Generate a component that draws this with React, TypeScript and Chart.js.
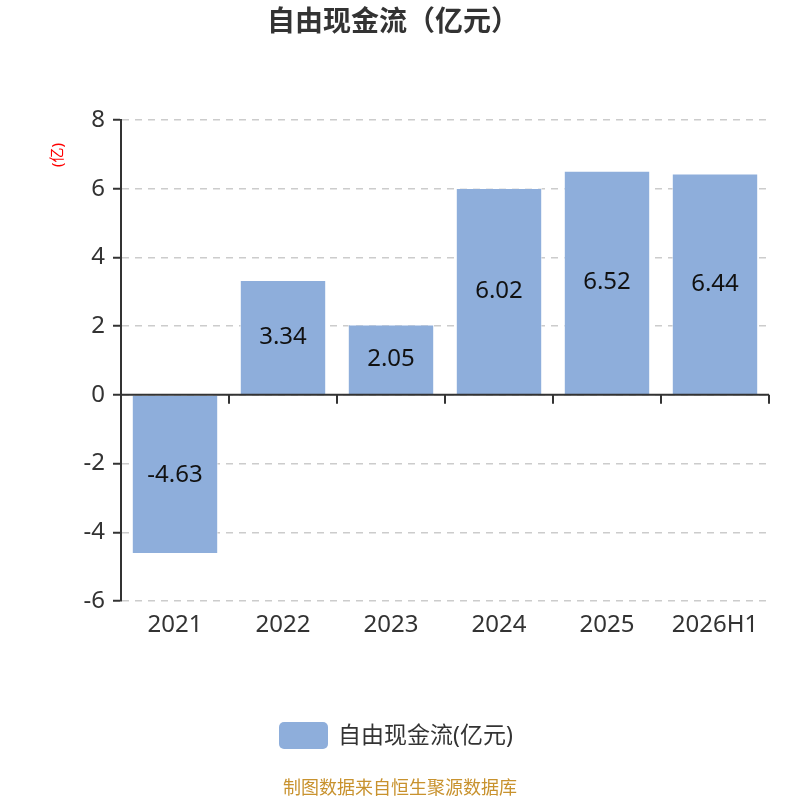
import React from 'react';
import Chart from 'chart.js/auto';

const categories = ['2021', '2022', '2023', '2024', '2025', '2026H1'];
const freeCashFlow = [-4.63, 3.34, 2.05, 6.02, 6.52, 6.44];
const seriesLabel = '自由现金流(亿元)';
const chartTitle = '自由现金流（亿元）';
const unitLabel = '(亿)';
const footerText = '制图数据来自恒生聚源数据库';

const FONT = '"Noto Sans", "Noto Sans CJK SC", sans-serif';
const BAR_COLOR = '#8eaedb';

// draws the zero axis, bar labels, title, legend and footer
const decorations = {
    id: 'decorations',
    afterDatasetsDraw(chart: any) {
        const { ctx, chartArea, scales } = chart;
        const y = scales.y;
        const zero = y.getPixelForValue(0);

        ctx.save();
        // zero line with ticks at category edges
        ctx.strokeStyle = '#333';
        ctx.lineWidth = 2;
        ctx.beginPath();
        ctx.moveTo(chartArea.left, zero);
        ctx.lineTo(chartArea.right, zero);
        const step = (chartArea.right - chartArea.left) / categories.length;
        for (let i = 1; i <= categories.length; i++) {
            const px = Math.round(chartArea.left + step * i);
            ctx.moveTo(px, zero);
            ctx.lineTo(px, zero + 9);
        }
        ctx.stroke();

        // values in the middle of the bars
        const meta = chart.getDatasetMeta(0);
        ctx.fillStyle = '#111';
        ctx.font = `24px ${FONT}`;
        ctx.textAlign = 'center';
        ctx.textBaseline = 'middle';
        meta.data.forEach((bar: any, i: number) => {
            const cy = (bar.y + bar.base) / 2;
            ctx.fillText(String(freeCashFlow[i]), bar.x, cy);
        });

        // title
        ctx.fillStyle = '#333';
        ctx.font = `bold 28px ${FONT}`;
        ctx.fillText(chartTitle, 393, 23);

        // unit label
        ctx.save();
        ctx.translate(58, 155);
        ctx.rotate(-Math.PI / 2);
        ctx.fillStyle = '#ff0000';
        ctx.font = `15px ${FONT}`;
        ctx.fillText(unitLabel, 0, 0);
        ctx.restore();

        // legend
        const ds = chart.data.datasets[0];
        ctx.fillStyle = ds.backgroundColor;
        ctx.beginPath();
        ctx.roundRect(279, 722, 49, 27, 5);
        ctx.fill();
        ctx.fillStyle = '#333';
        ctx.font = `23px ${FONT}`;
        ctx.textAlign = 'left';
        ctx.fillText(ds.label, 338, 736);

        // footer
        ctx.fillStyle = '#c8922e';
        ctx.font = `18px ${FONT}`;
        ctx.textAlign = 'center';
        ctx.fillText(footerText, 400, 789);
        ctx.restore();
    }
};

const App = () => {
    const canvasRef = React.useRef<HTMLCanvasElement>(null);

    React.useEffect(() => {
        if (!canvasRef.current) return;

        const chart = new Chart(canvasRef.current, {
            type: 'bar',
            data: {
                labels: categories,
                datasets: [{
                    label: seriesLabel,
                    data: freeCashFlow,
                    backgroundColor: BAR_COLOR,
                    borderColor: 'rgba(255,255,255,0.6)',
                    borderWidth: 1,
                    categoryPercentage: 0.8,
                    barPercentage: 1,
                }]
            },
            options: {
                responsive: false,
                animation: false,
                layout: { padding: { left: 0, right: 31, top: 120, bottom: 0 } },
                plugins: {
                    legend: { display: false },
                    title: { display: false },
                    tooltip: { enabled: false },
                },
                scales: {
                    x: {
                        grid: { display: false, drawTicks: false },
                        border: { display: false },
                        ticks: {
                            color: '#333',
                            font: { size: 24, family: FONT },
                            padding: 10,
                        },
                        afterFit: (scale: any) => { scale.height = 199; },
                    },
                    y: {
                        min: -6,
                        max: 8,
                        ticks: {
                            stepSize: 2,
                            color: '#333',
                            font: { size: 24, family: FONT },
                            padding: 8,
                        },
                        grid: {
                            color: '#cccccc',
                            lineWidth: 1.5,
                            tickColor: '#333',
                            tickLength: 8,
                            tickWidth: 2,
                        },
                        border: { color: '#333', width: 2, dash: [7, 6] },
                        afterFit: (scale: any) => { scale.width = 121; },
                    },
                },
            },
            plugins: [decorations],
        });

        return () => {
            chart.clear();
            chart.destroy();
        };
    }, []);

    return (
        <div style={{ position: 'absolute', left: 0, top: 0, width: 800, height: 800, background: '#fff' }}>
            <canvas ref={canvasRef} width={800} height={800}></canvas>
        </div>
    );
};

export default App;
